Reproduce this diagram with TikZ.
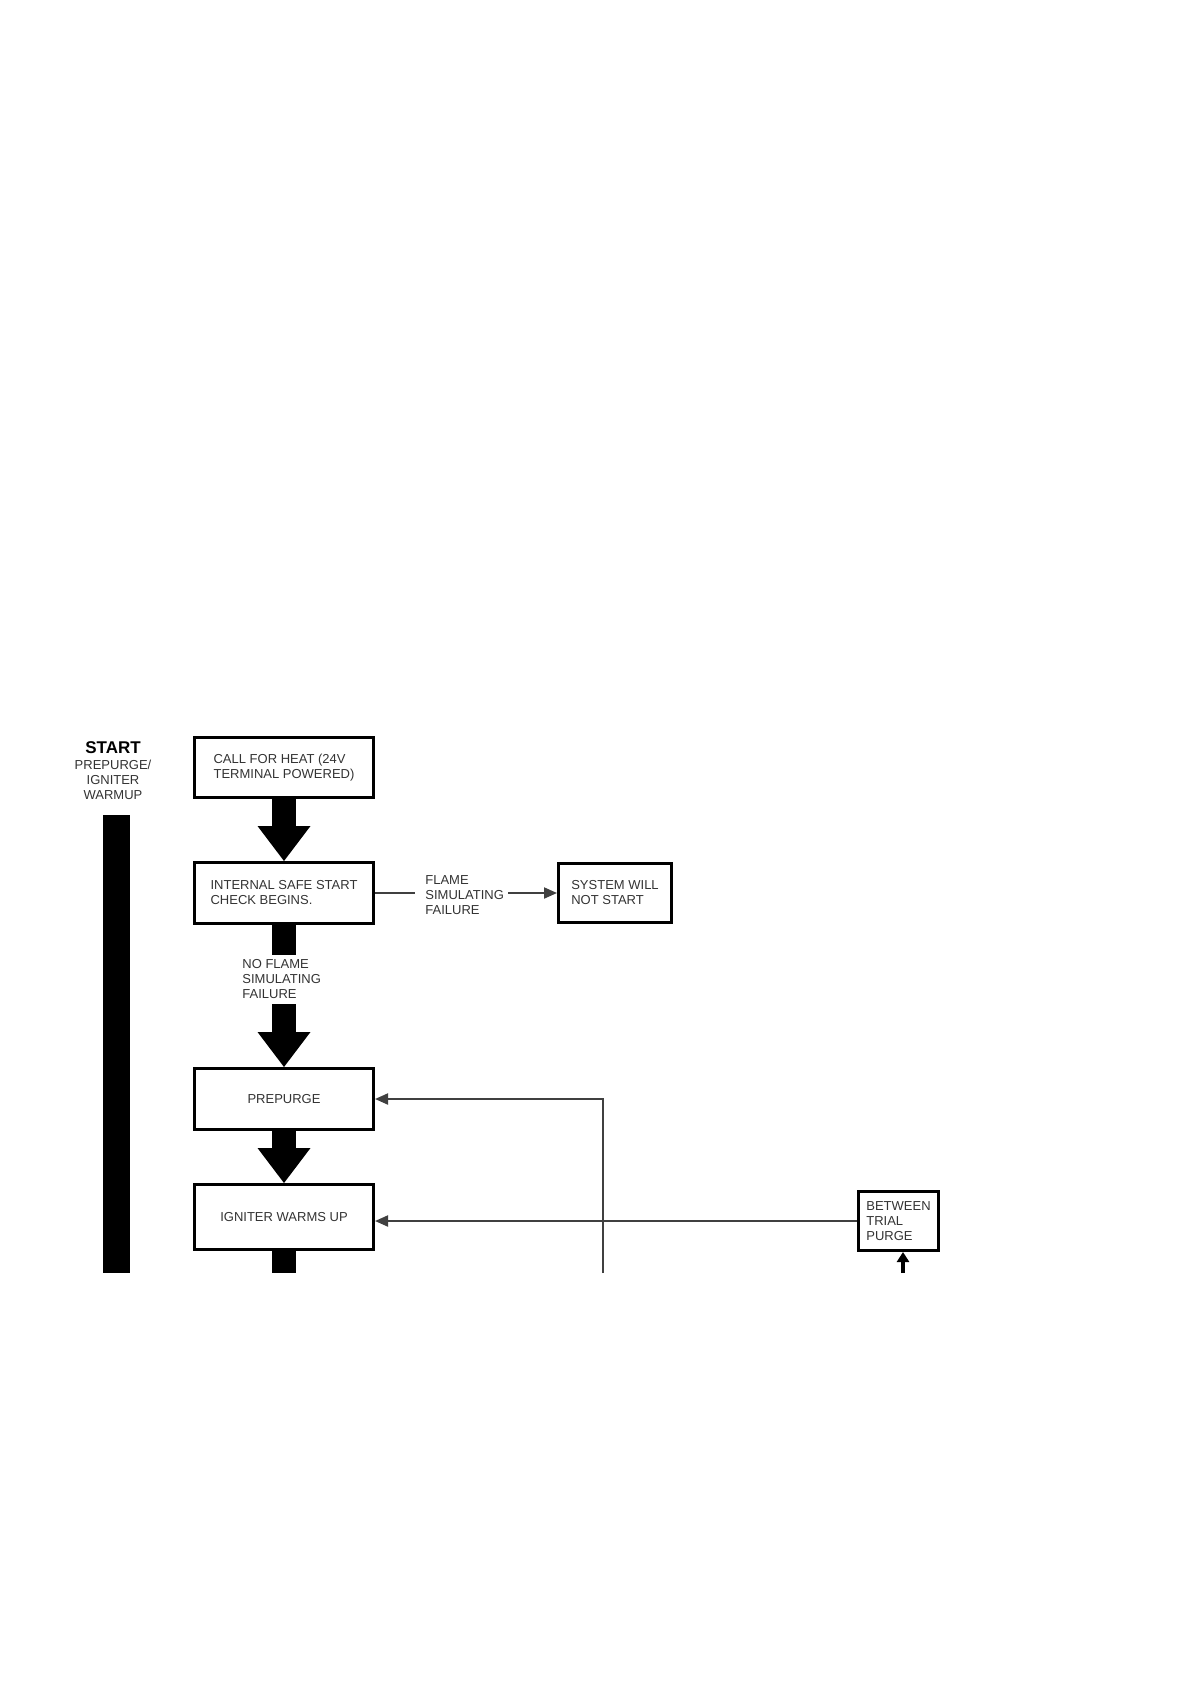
\documentclass[tikz,border=0pt]{standalone}
\usepackage{fontspec}
\setmainfont{Liberation Sans}
\usetikzlibrary{arrows.meta}
\begin{document}
\begin{tikzpicture}[x=0.5pt,y=-0.5pt,
  box/.style={draw, line width=1.5pt, inner sep=0pt, font=\fontsize{6.5}{7.5}\selectfont, text=black!80},
  small/.style={font=\fontsize{6.5}{7.5}\selectfont, text=black!80, inner sep=0pt, align=left},
  bigarrow/.style={line width=12pt, -{Triangle[width=26.5pt,length=17.5pt,line width=0pt]}},
  bigstem/.style={line width=12pt},
  thinline/.style={line width=1pt, draw=black!75},
  thinarrow/.style={thinline, -{Triangle[width=5.5pt,length=6.5pt]}}]
\useasboundingbox (0,0) rectangle (1190,1684);
% left bar and title
\node[font=\bfseries\fontsize{8.5}{9}\selectfont, inner sep=0pt] (start) at (113,748) {START};
\node[small, align=center] (startsub) at (113,780) {PREPURGE/\\IGNITER\\WARMUP};
\coordinate (bartop) at (116.5,815);
\coordinate (barbot) at (116.5,1273);
\draw[bigstem, line width=13.5pt] (bartop) -- (barbot);
% boxes
\node[box, minimum width=89.5pt, minimum height=30pt, align=left] (heat) at (284,767.5) {CALL FOR HEAT (24V\\TERMINAL POWERED)};
\node[box, minimum width=89.5pt, minimum height=30.5pt, align=left] (check) at (284,893) {INTERNAL SAFE START\\CHECK BEGINS.};
\node[box, minimum width=56.5pt, minimum height=29.5pt, align=left] (nostart) at (615,893) {SYSTEM WILL\\NOT START};
\node[box, minimum width=89.5pt, minimum height=30.5pt] (prepurge) at (284,1099) {PREPURGE};
\node[box, minimum width=89.5pt, minimum height=32.5pt] (igniter) at (284,1217) {IGNITER WARMS UP};
\node[box, minimum width=40pt, minimum height=29.5pt, align=left] (between) at (898.5,1221) {BETWEEN\\TRIAL\\PURGE};
% labels
\node[small, anchor=west] (flame) at (425,895) {FLAME\\SIMULATING\\FAILURE};
\node[small, anchor=west] (noflame) at (242,979) {NO FLAME\\SIMULATING\\FAILURE};
% big arrows
\draw[bigarrow] (heat.south) -- (check.north);
\coordinate (s1) at (284,955);
\coordinate (s2) at (284,1004);
\draw[bigstem] (check.south) -- (s1);
\draw[bigarrow] (s2) -- (prepurge.north);
\draw[bigarrow] (prepurge.south) -- (igniter.north);
\coordinate (s3) at (284,1273);
\draw[bigstem] (igniter.south) -- (s3);
% flame branch
\coordinate (f1) at (415,893);
\coordinate (f2) at (508,893);
\draw[thinline] (check.east) -- (f1);
\draw[thinarrow] (f2) -- (nostart.west);
% feedback loops
\coordinate (pbot) at (603,1273);
\draw[thinarrow] (pbot) |- (prepurge.east);
\draw[thinarrow] (between.west) -- (between.west -| igniter.east);
\coordinate (bbot) at (903,1273);
\draw[line width=2pt, -{Triangle[width=6pt,length=5pt]}] (bbot) -- (bbot |- between.south);
\end{tikzpicture}
\end{document}
